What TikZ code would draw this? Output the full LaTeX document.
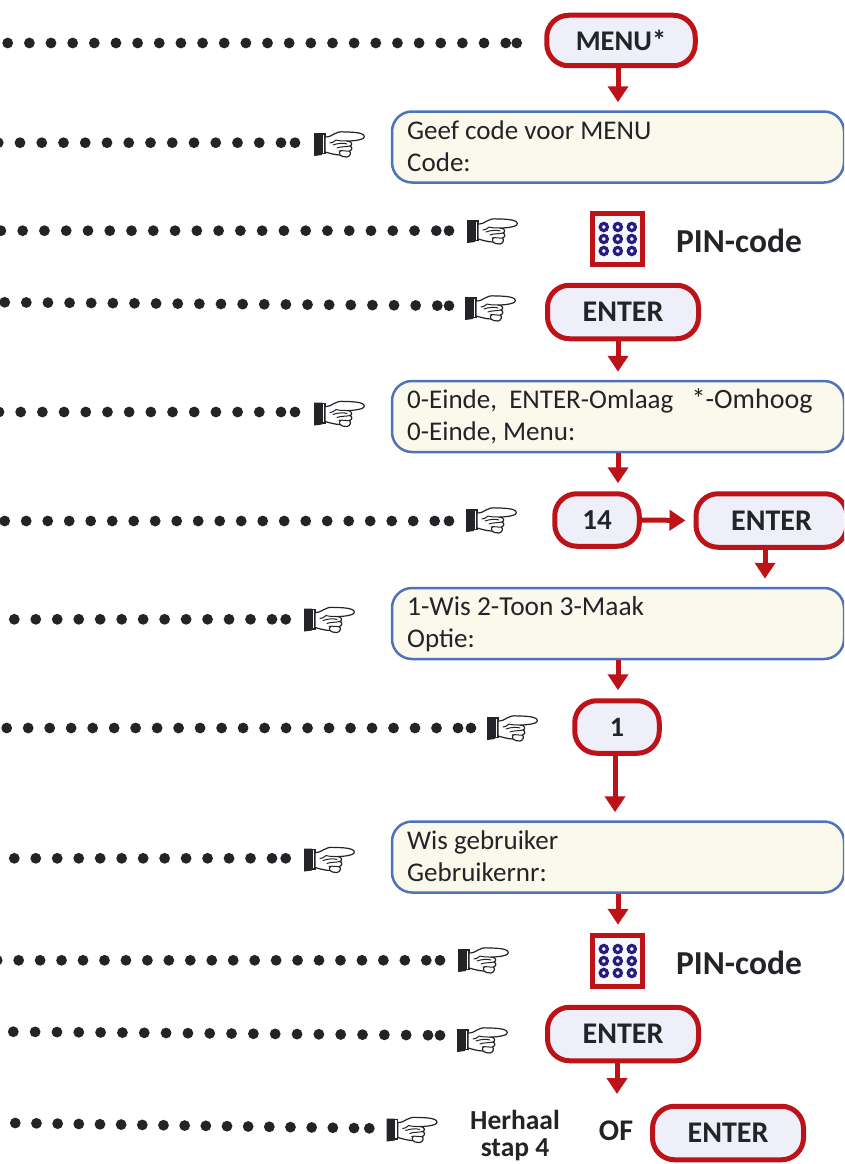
\documentclass[tikz,border=0pt]{standalone}
\usepackage{fontspec}
\setmainfont{Carlito}
\usetikzlibrary{arrows.meta}
\definecolor{rd}{HTML}{BC1218}
\definecolor{bl}{HTML}{4D73B8}
\definecolor{lcdfill}{HTML}{FBF8EC}
\definecolor{btnfill}{HTML}{EEEFF8}
\definecolor{ink}{HTML}{222428}
\definecolor{navy}{HTML}{2A1A80}
\definecolor{kpfill}{HTML}{F5F9FC}
\tikzset{
  lcd/.style={draw=bl,line width=2.5pt,fill=lcdfill,rounded corners=20pt,minimum width=452pt,minimum height=71pt,inner sep=0pt},
  btn/.style={draw=rd,line width=5pt,fill=btnfill,rounded corners=22pt,minimum height=53.5pt,inner sep=0pt,text=ink,font=\fontsize{30}{30}\selectfont\bfseries},
  flow/.style={draw=rd,line width=5pt,-{Triangle[length=16pt,width=20pt]},shorten >=8pt},
  lcdtext/.style={anchor=base west,text=ink,font=\fontsize{27}{27}\selectfont,inner sep=0pt},
  bold/.style={text=ink,font=\fontsize{33.5}{33.5}\selectfont\bfseries,inner sep=0pt},
  dot/.style={fill=ink,draw=none},
  pics/hand/.style={code={
    \fill[ink] (0,-1) -- (8,-1) -- (8,21) -- (0,22) -- cycle;
    \draw[ink,line width=1.1pt,fill=white] (8,0) -- (11,0) -- (11,19.5) -- (8,19.5) -- cycle;
    \draw[ink,line width=1.2pt,fill=white,line join=round]
      (11,3) .. controls (15,3) and (17,2) .. (20,0)
      .. controls (23,-2) and (26,-2.5) .. (31,-2)
      .. controls (38,-2) and (45,-1.5) .. (48,0)
      .. controls (51,1) and (51,4) .. (48,5)
      .. controls (44,6.5) and (38,7) .. (33,7)
      .. controls (38,7) and (39,11) .. (36,12)
      .. controls (38.5,13) and (38.5,16) .. (35.5,17)
      .. controls (37.5,19) and (36,22.5) .. (33,23)
      .. controls (30,23.5) and (27,22) .. (26,21)
      .. controls (21,21) and (15,19) .. (11,18) -- cycle;
    \draw[ink,line width=1pt,line cap=round]
      (33,7) .. controls (29,7) and (25,7) .. (22,6)
      (22,6) .. controls (20,8) and (18,9) .. (16,9)
      (19,11) .. controls (24,9) and (30,9) .. (33,10)
      (36,12) .. controls (32,13) and (26,12.5) .. (23,14)
      (35.5,17) .. controls (32,17.5) and (28,16) .. (25,17)
      (26,21) .. controls (25,19) and (25,18) .. (27,17);
  }}
}
% y at first dot, y at last dot, x of first, x of second last, x of last, number of gaps
\newcommand{\dotrow}[6]{%
  \foreach \k in {0,...,#6} {
    \pgfmathsetmacro{\xx}{#3+(#4-#3)*\k/#6}
    \pgfmathsetmacro{\yy}{#1+(#2-#1)*(\xx-#3)/(#5-#3)}
    \fill[dot] (\xx,\yy) circle (5.4);
  }
  \fill[dot] (#5,#2) circle (5.4);
}
\begin{document}
\begin{tikzpicture}[x=1pt,y=-1pt]
\useasboundingbox (0,0) rectangle (844,1164);
% dot rows
\dotrow{43}{43}{7.7}{505.7}{516.7}{23}
\dotrow{142.7}{142.7}{-1.75}{281}{295}{13}
\dotrow{230.7}{230.7}{0.9}{436.3}{449}{20}
\dotrow{302.3}{305.7}{4.7}{437.3}{449}{20}
\dotrow{412}{412}{-1}{281}{295}{13}
\dotrow{521}{521}{4.7}{434.7}{449}{20}
\dotrow{619.3}{619.3}{14.3}{272}{285.7}{12}
\dotrow{728}{728}{6.7}{458}{471}{21}
\dotrow{858.3}{858.3}{14.3}{272}{285.7}{12}
\dotrow{960.3}{960.3}{-2.8}{426.3}{440}{20}
\dotrow{1031.7}{1035.3}{13.3}{428}{440}{19}
\dotrow{1123}{1128.3}{15.3}{354}{369.3}{16}
% hands
\pic at (314,134) {hand};
\pic at (467,221) {hand};
\pic at (465,298) {hand};
\pic at (314,403.5) {hand};
\pic at (466,510) {hand};
\pic at (304,609.5) {hand};
\pic at (487,718) {hand};
\pic at (304,849.5) {hand};
\pic at (458,950) {hand};
\pic at (457,1030) {hand};
\pic at (386.7,1119.5) {hand};
% LCD boxes
\begin{scope}
\clip (0,0) rectangle (844,1164);
\node[lcd] (lcda) at (618,147) {};
\node[lcd] (lcdb) at (618,416.5) {};
\node[lcd] (lcdc) at (618,623.5) {};
\node[lcd] (lcdd) at (618,857) {};
\node[btn,minimum width=151pt] (enterc) at (771.5,520.5) {ENTER};
\end{scope}
\node[lcdtext] (ta) at (407,139) {Geef code voor MENU};
\node[lcdtext] (tb) at (407,171) {Code:};
\node[lcdtext] (tc) at (407,408) {0-Einde,\ \ ENTER-Omlaag\ \ \ {\fontsize{28}{28}\selectfont *-Omhoog}};
\node[lcdtext] (td) at (407,440) {0-Einde, Menu:};
\node[lcdtext,font=\fontsize{27.4}{27.4}\selectfont] (te) at (407,615) {1-Wis 2-Toon 3-Maak};
\node[lcdtext] (tf) at (407,647) {Optie:};
\node[lcdtext] (tg) at (407,849) {Wis gebruiker};
\node[lcdtext] (th) at (407,881) {Gebruikernr:};
% buttons
\node[btn,minimum width=148.5pt,minimum height=50.5pt,font=\fontsize{28.5}{28.5}\selectfont\bfseries] (menu) at (621,40.5) {MENU*};
\node[btn,minimum width=151pt] (entera) at (623,312) {ENTER};
\node[btn,minimum width=84.5pt,minimum height=52.5pt,font=\fontsize{29}{29}\selectfont\bfseries] (num) at (597,520) {14};
\node[btn,minimum width=84.5pt,minimum height=52.5pt,font=\fontsize{28}{28}\selectfont\bfseries] (one) at (617,727) {1};
\node[btn,minimum width=151pt] (enterd) at (623,1034) {ENTER};
\node[btn,minimum width=151pt] (entere) at (728,1133) {ENTER};
% keypads
\foreach \nm/\cy in {kpa/239,kpb/961} {
  \node[draw=rd,line width=5pt,fill=kpfill,minimum width=50.5pt,minimum height=51.5pt,inner sep=0pt] (\nm) at (617.5,\cy) {};
  \foreach \dx in {-14,0,14} \foreach \dy in {-12,0,12}
    \draw[navy,line width=3.2pt] (617.8+\dx,\cy+\dy) circle (3.6);
}
\node[bold] (pina) at (739,241) {PIN-code};
\node[bold] (pinb) at (739,963) {PIN-code};
\node[text=ink,font=\fontsize{27.5}{27}\selectfont\bfseries,align=center,inner sep=0pt] (rep) at (515,1135.5) {Herhaal\\stap 4};
\node[text=ink,font=\fontsize{30}{30}\selectfont\bfseries,inner sep=0pt] (of) at (616,1131) {OF};
\coordinate (ecout) at (765,549);
\coordinate (oneout) at (615,755);
\coordinate (endtip) at (617,1102);
% arrows
\draw[flow] (menu.south -| lcda.north) -- (lcda.north);
\draw[flow] (entera.south -| lcdb.north) -- (lcdb.north);
\draw[flow] (lcdb.south) -- (lcdb.south |- num.north);
\draw[flow] (num.east) -- (enterc.west);
\draw[flow] (ecout) -- (ecout |- lcdc.north);
\draw[flow] (lcdc.south) -- (lcdc.south |- one.north);
\draw[flow] (oneout) -- (oneout |- lcdd.north);
\draw[flow] (lcdd.south) -- (lcdd.south |- kpb.north);
\draw[flow] (enterd.south -| endtip) -- (endtip);
\end{tikzpicture}
\end{document}
